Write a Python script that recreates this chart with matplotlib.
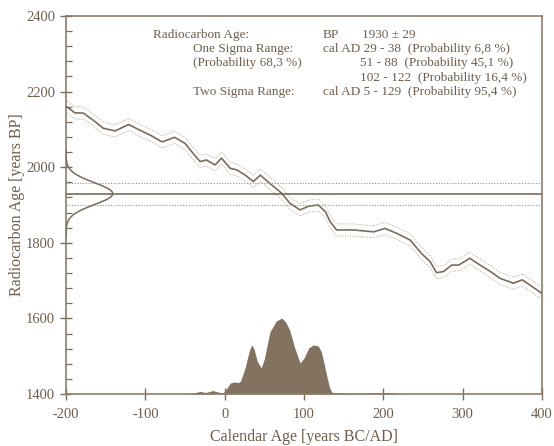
import numpy as np
import matplotlib
matplotlib.use("Agg")
import matplotlib.pyplot as plt
from matplotlib.ticker import MultipleLocator

# ---------------- data ----------------
c14_age = 1930
c14_err = 29

curve_years = [-199, -189, -178, -163, -153, -138, -121, -107, -94, -79, -63, -50, -40, -31,
               -23, -12, -4, 7, 15, 26, 36, 45, 57, 72, 82, 95, 106, 118, 127, 133, 141,
               162, 188, 202, 217, 234, 248, 259, 267, 276, 286, 295, 309, 322, 335, 347,
               364, 375, 385, 400]
curve_bp = [2160, 2144, 2143, 2120, 2103, 2096, 2113, 2098, 2085, 2067, 2079, 2063, 2037, 2015,
            2019, 2006, 2024, 1997, 1993, 1979, 1962, 1979, 1957, 1931, 1905, 1887, 1897, 1900,
            1882, 1856, 1834, 1834, 1829, 1838, 1825, 1807, 1772, 1750, 1721, 1724, 1741, 1741,
            1759, 1741, 1724, 1706, 1693, 1702, 1688, 1666]
curve_sigma = 16

prob_years = [-45, -38, -31, -24, -15, -8, -2, 3, 7, 12, 17, 20, 26, 31, 34, 37, 41, 46, 50,
              57, 65, 72, 77, 82, 88, 95, 100, 106, 112, 118, 122, 126, 129, 132, 135, 140,
              160, 180, 195, 205, 215, 224]
prob_height = [0, 3, 7, 4, 9, 5, 3, 16, 29, 32, 30, 34, 71, 114, 130, 119, 87, 69, 93,
               164, 193, 201, 190, 169, 124, 82, 95, 122, 130, 127, 111, 74, 45, 19, 5, 3,
               2, 2, 4, 4, 2, 0]

info_rows = [
    ("Radiocarbon Age:", "BP", "1930 ± 29"),
    ("One Sigma Range:", "cal AD 29 - 38  (Probability 6,8 %)", None),
    ("(Probability 68,3 %)", None, "51 - 88  (Probability 45,1 %)"),
    (None, None, "102 - 122  (Probability 16,4 %)"),
    ("Two Sigma Range:", "cal AD 5 - 129  (Probability 95,4 %)", None),
]

# ---------------- style ----------------
ink = "#7b6b5b"
txt = "#6e5e4e"
fillc = "#837260"
plt.rcParams["font.family"] = ["Liberation Serif", "DejaVu Serif"]
plt.rcParams["axes.unicode_minus"] = False

fig = plt.figure(figsize=(5.54, 4.46), dpi=100)
ax = fig.add_axes([66 / 554, 1 - 394 / 446, (542 - 66) / 554, (394 - 16) / 446])
ax.set_xlim(-200, 400)
ax.set_ylim(1400, 2400)

# probability distribution
ax.fill_between(prob_years, 1400, 1400 + np.array(prob_height), color=fillc, lw=0, zorder=2)

# calibration curve with band
cy = np.array(curve_years)
cb = np.array(curve_bp)
ax.plot(cy, cb, color=ink, lw=1.2, zorder=3)
ax.plot(cy, cb + curve_sigma, color="#b0a396", lw=0.7, ls=(0, (1, 1.5)), zorder=3)
ax.plot(cy, cb - curve_sigma, color="#b0a396", lw=0.7, ls=(0, (1, 1.5)), zorder=3)

# measurement lines
ax.axhline(c14_age, color=ink, lw=1.2, zorder=3)
ax.axhline(c14_age + c14_err, color="#9a8c7e", lw=0.8, ls=(0, (1, 1.5)), zorder=3)
ax.axhline(c14_age - c14_err, color="#9a8c7e", lw=0.8, ls=(0, (1, 1.5)), zorder=3)

# gaussian of the measurement on the y-axis
gy = np.linspace(c14_age - 4 * c14_err, c14_age + 4 * c14_err, 300)
gx = -200 + 59 * np.exp(-0.5 * ((gy - c14_age) / c14_err) ** 2)
ax.plot(gx, gy, color=ink, lw=1.1, zorder=3)

# axes styling
for s in ax.spines.values():
    s.set_color("#8c7c6c")
    s.set_linewidth(1.2)
ax.xaxis.set_major_locator(MultipleLocator(100))
ax.yaxis.set_major_locator(MultipleLocator(200))
ax.yaxis.set_minor_locator(MultipleLocator(40))
ax.tick_params(axis="x", which="major", direction="inout", length=8, width=1, color=ink,
               labelsize=10.5, labelcolor=txt, pad=6)
ax.tick_params(axis="y", which="major", direction="inout", length=8, width=1, color=ink,
               labelsize=10.5, labelcolor=txt, pad=4)
ax.tick_params(axis="y", which="minor", direction="in", length=4, width=0.9, color=ink)
ax.set_xlabel("Calendar Age [years BC/AD]", fontsize=11.5, color=txt, labelpad=6)
ax.set_ylabel("Radiocarbon Age [years BP]", fontsize=11.5, color=txt)
ax.yaxis.set_label_coords(-(66 - 25) / 476, 0.5)

# info text
row_y = [35, 49, 63, 78, 92]
for (a, b, c), y in zip(info_rows, row_y):
    yf = 1 - y / 446
    if a is not None:
        xa = 153 if a.startswith("Radiocarbon") else 193
        fig.text(xa / 554, yf, a, fontsize=9.5, color=txt, va="center", ha="left")
    if b is not None:
        fig.text(323 / 554, yf, b, fontsize=9.5, color=txt, va="center", ha="left")
    if c is not None:
        xc = 362 if a is not None and a.startswith("Radiocarbon") else 360
        fig.text(xc / 554, yf, c, fontsize=9.5, color=txt, va="center", ha="left")

fig.savefig("out.png", dpi=100)
